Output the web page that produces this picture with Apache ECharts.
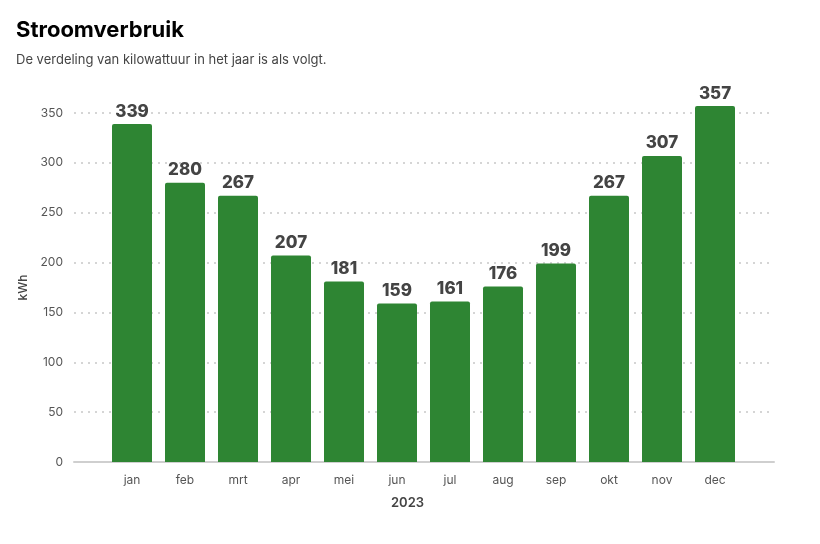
<!DOCTYPE html>
<html>
<head>
<meta charset="utf-8">
<script src="https://cdn.jsdelivr.net/npm/echarts@6/dist/echarts.min.js"></script>
<style>
  html, body { margin: 0; padding: 0; background: #fff; }
  #chart { width: 820px; height: 544px; }
</style>
</head>
<body>
<div id="chart"></div>
<script>
  // data
  const months = ['jan', 'feb', 'mrt', 'apr', 'mei', 'jun', 'jul', 'aug', 'sep', 'okt', 'nov', 'dec']
  const kwh = [339, 280, 267, 207, 181, 159, 161, 176, 199, 267, 307, 357]
  const yTicks = [0, 50, 100, 150, 200, 250, 300, 350]

  const font = 'Inter, "Noto Sans", sans-serif'
  const chart = echarts.init(document.getElementById('chart'))

  const option = {
    animation: false,
    textStyle: { fontFamily: font },
    title: {
      text: 'Stroomverbruik',
      subtext: 'De verdeling van kilowattuur in het jaar is als volgt.',
      left: 11,
      top: 14,
      itemGap: 13,
      textStyle: { fontFamily: font, fontSize: 22, fontWeight: 700, color: '#000' },
      subtextStyle: { fontFamily: font, fontSize: 13, color: '#444' }
    },
    // grid 0 carries the split lines and axis line, grid 1 carries the bars
    grid: [
      { left: 74, right: 46, top: 113, bottom: 82 },
      { left: 105.5, right: 78.5, top: 113, bottom: 82 }
    ],
    xAxis: [
      {
        gridIndex: 0,
        type: 'value',
        min: 0,
        max: 1,
        axisLine: { show: true, lineStyle: { color: '#cfcfcf', width: 2 } },
        axisTick: { show: false },
        axisLabel: { show: false },
        splitLine: { show: false }
      },
      {
        gridIndex: 1,
        type: 'category',
        data: months,
        name: '2023',
        nameLocation: 'middle',
        nameGap: 35,
        nameTextStyle: { fontFamily: font, fontSize: 13, fontWeight: 600, color: '#444', letterSpacing: 1, padding: [0, 32, 0, 0] },
        axisLine: { show: false },
        axisTick: { show: false },
        axisLabel: { margin: 12, fontSize: 12, color: '#555', fontFamily: font, letterSpacing: 1 }
      }
    ],
    yAxis: [
      {
        gridIndex: 0,
        type: 'value',
        min: yTicks[0],
        max: yTicks[yTicks.length - 1],
        interval: 50,
        name: 'kWh',
        nameLocation: 'middle',
        nameGap: 45,
        nameTextStyle: { fontFamily: font, fontSize: 12, fontWeight: 500, color: '#444' },
        axisLine: { show: false },
        axisTick: { show: false },
        axisLabel: { margin: 11, fontSize: 12, color: '#555', fontFamily: font, letterSpacing: 0.5 },
        splitLine: { lineStyle: { color: '#c8c8c8', type: [2, 5], width: 1.5 } }
      },
      {
        gridIndex: 1,
        type: 'value',
        min: yTicks[0],
        max: yTicks[yTicks.length - 1],
        show: false,
        splitLine: { show: false }
      }
    ],
    series: [
      {
        type: 'bar',
        xAxisIndex: 1,
        yAxisIndex: 1,
        data: kwh,
        barWidth: 40,
        clip: false,
        itemStyle: { color: '#2e8533', borderRadius: [2, 2, 0, 0] },
        label: {
          show: true,
          position: 'top',
          distance: 4,
          fontFamily: font,
          fontSize: 17,
          fontWeight: 800,
          color: '#444'
        }
      }
    ]
  }

  chart.setOption(option)
</script>
</body>
</html>
